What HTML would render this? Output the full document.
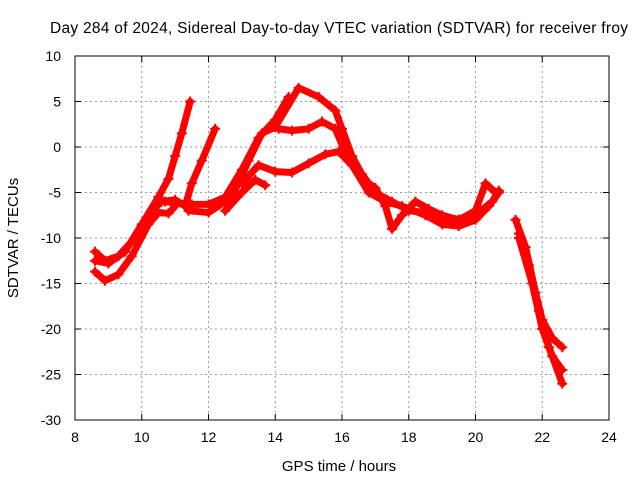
<!DOCTYPE html>
<html><head><meta charset="utf-8"><style>
body{margin:0;background:#fff}
svg{display:block;font-family:"Liberation Sans",sans-serif;font-size:14px}
</style></head><body>
<svg id="chart" width="640" height="480">
<rect width="640" height="480" fill="#fff"/>
<text x="339" y="33" text-anchor="middle" style="font-size:15.5px" textLength="578">Day 284 of 2024, Sidereal Day-to-day VTEC variation (SDTVAR) for receiver froy</text>
<text x="339" y="471" text-anchor="middle" style="font-size:15px">GPS time / hours</text>
<text transform="translate(18,238) rotate(-90)" text-anchor="middle" style="font-size:15px">SDTVAR / TECUs</text>
<g id="grid"></g><g id="marks"></g>
<rect x="75" y="56" width="534" height="364" fill="none" stroke="#000"/>
</svg>
<script>
const xTicks=[8,10,12,14,16,18,20,22,24];
const yTicks=[10,5,0,-5,-10,-15,-20,-25,-30];
const s1=[[8.6,-12.5],[9,-12.8],[9.5,-11.5],[10,-8.5],[10.5,-5.5],[10.8,-3.5],[11,-1],[11.2,1.5],[11.45,5]];
const s2=[[8.6,-11.5],[8.9,-12.5],[9.3,-12],[9.8,-10],[10.3,-7],[10.6,-6],[11,-5.8],[11.3,-6.5],[11.5,-4],[11.8,-1.5],[12.2,2]];
const s3=[[8.6,-13.7],[8.9,-14.7],[9.3,-14],[9.7,-12],[10.2,-8.5],[10.5,-7.2],[10.8,-7.3],[11,-6.5]];
const s4=[[10.7,-6],[11.5,-6.3],[12,-6.3],[12.5,-5.5],[13,-2.5],[13.5,1],[14,3],[14.4,5.5]];
const s5=[[11.4,-7],[12,-7.2],[12.7,-5.5],[13.2,-1.5],[13.6,1.5],[14,2.2],[14.7,6.5],[15.3,5.5],[15.8,4],[16,2],[16.3,-1],[16.6,-3],[17,-5],[17.5,-6],[18,-7],[18.5,-7.2],[19,-8],[19.5,-8],[20,-7.5],[20.5,-6],[20.7,-4.8]];
const s6=[[12.5,-7],[13,-5],[13.4,-3.6],[13.7,-4.2]];
const s7=[[13,-4],[13.5,-2],[14,-2.7],[14.5,-2.8],[15,-1.8],[15.5,-0.8],[15.9,-0.5],[16.3,-2],[16.8,-5],[17.3,-6],[17.8,-6.5],[18.5,-7.5],[19,-8.5],[19.5,-8.7],[20,-8],[20.4,-6.5],[20.7,-5]];
const s8=[[14.1,2],[14.5,1.8],[15,2],[15.4,2.8],[15.8,2],[16.2,-1.5],[16.6,-3.5],[17,-4.5],[17.3,-6.5],[17.5,-9],[17.8,-7.5],[18.2,-6],[18.6,-6.8],[19,-7.5],[19.5,-8],[20,-7],[20.3,-4],[20.6,-5]];
const s9=[[21.2,-8],[21.5,-11],[21.8,-16],[22,-19],[22.3,-21],[22.6,-22]];
const s10=[[21.3,-9.5],[21.6,-13],[21.9,-18],[22.2,-22],[22.6,-26]];
const s11=[[21.3,-10],[21.7,-15],[22,-20],[22.3,-23],[22.6,-24.5]];
const series=[s1,s2,s3,s4,s5,s6,s7,s8,s9,s10,s11];
const X=h=>75+(h-8)*534/16, Y=v=>56+(10-v)*364/40;
const NS='http://www.w3.org/2000/svg';
const grid=document.getElementById('grid'), marks=document.getElementById('marks');
function mk(tag,a,p){const e=document.createElementNS(NS,tag);for(const k in a)e.setAttribute(k,a[k]);p.appendChild(e);return e;}
xTicks.forEach(t=>{const x=X(t);
 if(t>8&&t<24){const l=mk('line',{x1:x,x2:x,y1:56,y2:420,stroke:'#999','stroke-dasharray':'2,3'},grid);
 
 }
 mk('line',{x1:x,x2:x,y1:420,y2:414,stroke:'#000'},grid);mk('line',{x1:x,x2:x,y1:56,y2:62,stroke:'#000'},grid);
 const tx=mk('text',{x:x,y:442,'text-anchor':'middle'},grid);tx.textContent=t;
 
 });
yTicks.forEach(t=>{const y=Y(t);
 if(t<10&&t>-30){const l=mk('line',{x1:75,x2:609,y1:y,y2:y,stroke:'#999','stroke-dasharray':'2,3'},grid);
 
 }
 mk('line',{x1:75,x2:81,y1:y,y2:y,stroke:'#000'},grid);mk('line',{x1:609,x2:603,y1:y,y2:y,stroke:'#000'},grid);
 const tx=mk('text',{x:61,y:y+5,'text-anchor':'end'},grid);tx.textContent=t;
 
 });
series.forEach((s,i)=>{
 const pl=mk('polyline',{points:s.map(p=>X(p[0])+','+Y(p[1])).join(' '),fill:'none',stroke:'#f00','stroke-width':7,'stroke-linejoin':'round','stroke-linecap':'round'},marks);
 
 
 s.forEach(p=>{const x=X(p[0]),y=Y(p[1]);
  const m=mk('path',{d:`M${x-5},${y}h10M${x},${y-5}v10`,stroke:'#f00','stroke-width':2},marks);
  
  });
});
</script>
</body></html>
